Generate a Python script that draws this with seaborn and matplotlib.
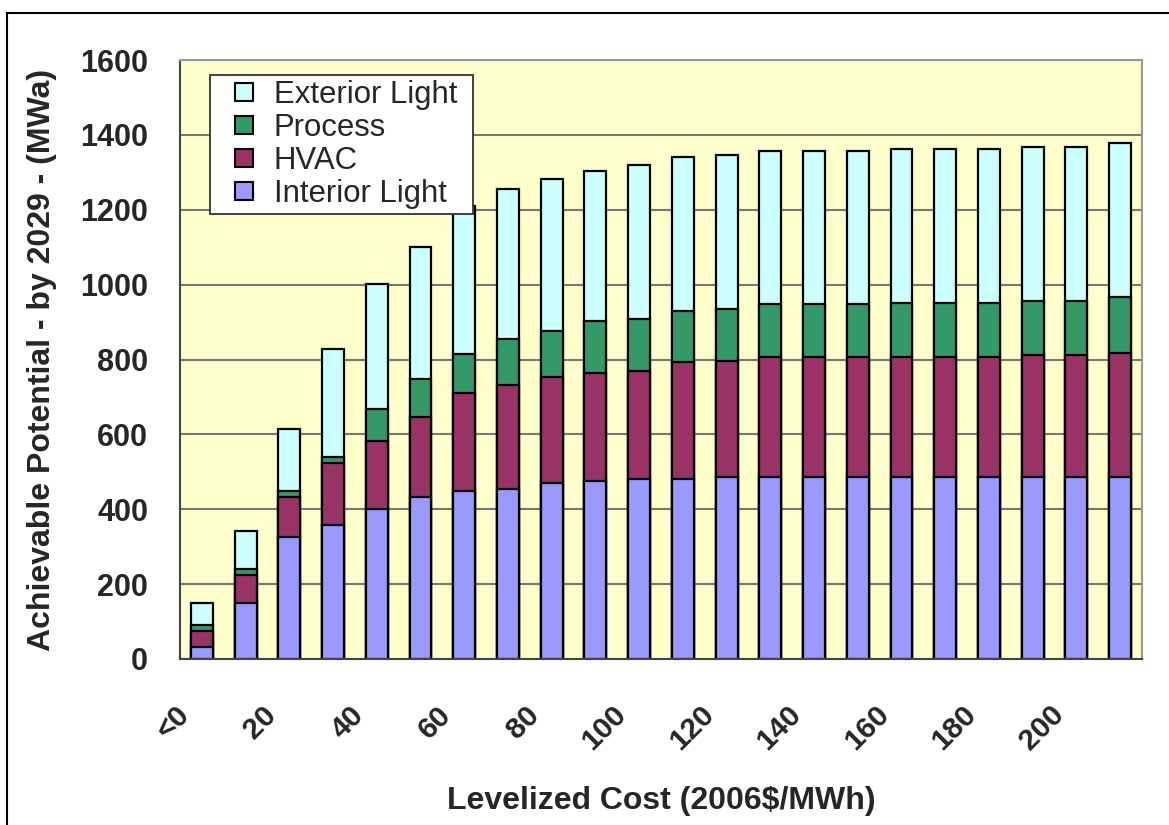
import matplotlib
matplotlib.use("Agg")
import matplotlib.pyplot as plt
import matplotlib.transforms as mtransforms
from matplotlib.patches import Patch, Rectangle
from matplotlib.legend_handler import HandlerPatch
import numpy as np
import seaborn as sns

sns.set_style("white")
plt.rcParams["font.family"] = ["Liberation Sans", "DejaVu Sans"]

# Levelized cost bins (2006$/MWh) and the labels shown on the axis
cost_bins = ["<0", "10", "20", "30", "40", "50", "60", "70", "80", "90", "100",
             "110", "120", "130", "140", "150", "160", "170", "180", "190", "200", "210"]
tick_labels = ["<0", "20", "40", "60", "80", "100", "120", "140", "160", "180", "200"]

# Achievable potential by end use (MWa)
interior_light = [31, 150, 327, 357, 401, 433, 449, 453, 471, 476, 481,
                  481, 486, 486, 486, 486, 486, 486, 486, 486, 486, 486]
hvac = [45, 75, 105, 167, 181, 213, 262, 279, 282, 288, 289,
        311, 311, 321, 321, 321, 321, 321, 321, 326, 326, 332]
process = [15, 16, 17, 16, 85, 102, 103, 123, 123, 139, 138,
           137, 138, 140, 140, 140, 145, 145, 145, 145, 145, 150]
exterior_light = [59, 102, 165, 288, 336, 353, 396, 400, 406, 401, 412,
                  413, 412, 411, 411, 411, 411, 411, 411, 411, 411, 411]

series_names = ["Interior Light", "HVAC", "Process", "Exterior Light"]
series_colors = ["#9999FF", "#993366", "#339966", "#CCFFFF"]
series_values = [interior_light, hvac, process, exterior_light]

W, H = 1169, 825
fig = plt.figure(figsize=(W / 100, H / 100), dpi=100)
ax = fig.add_axes([180 / W, 1 - 659 / H, 962 / W, 599 / H])
ax.set_facecolor("#FFFFCC")

# Stack by drawing cumulative totals, tallest first
cumulative = np.cumsum(np.array(series_values, dtype=float), axis=0)
for name, color, cum in reversed(list(zip(series_names, series_colors, cumulative))):
    sns.barplot(x=cost_bins, y=cum, order=cost_bins, color=color, saturation=1,
                width=0.5, edgecolor="black", linewidth=1.6, ax=ax, zorder=2)

ax.set_xlim(-0.5, len(cost_bins) - 0.5)
ax.set_ylim(0, 1600)
ax.set_yticks(range(0, 1601, 200))
ax.set_yticklabels([str(v) for v in range(0, 1601, 200)], fontsize=22, fontweight="bold")
ax.yaxis.grid(True, color="#777777", linewidth=1.5, zorder=0)
ax.xaxis.grid(False)
ax.set_axisbelow(True)

ax.set_xticks(range(0, len(cost_bins), 2))
ax.set_xticklabels(tick_labels, rotation=45, ha="right", va="center",
                   rotation_mode="anchor", fontsize=21.5, fontweight="bold")
ax.set_xticks(np.arange(-0.5, len(cost_bins), 1), minor=True)
ax.tick_params(axis="x", which="major", length=0, pad=37)
ax.tick_params(axis="x", which="minor", length=10, width=1.2, color="#444444", direction="out")
ax.tick_params(axis="y", which="major", length=10, width=1.2, color="#444444", direction="out", pad=13)
shift = mtransforms.ScaledTranslation(-17 / 100, 0, fig.dpi_scale_trans)
for lbl in ax.get_xticklabels():
    lbl.set_transform(lbl.get_transform() + shift)

for side in ["top", "right"]:
    ax.spines[side].set_color("#999999")
    ax.spines[side].set_linewidth(1.5)
for side in ["left", "bottom"]:
    ax.spines[side].set_color("#444444")
    ax.spines[side].set_linewidth(1.5)

ax.set_xlabel("Levelized Cost (2006$/MWh)", fontsize=23, fontweight="bold")
ax.set_ylabel("Achievable Potential - by 2029 - (MWa)", fontsize=23, fontweight="bold")
ax.xaxis.set_label_coords(0.5, -0.212)
ax.yaxis.set_label_coords(-0.128, 0.5)


def square_key(legend, orig_handle, xdescent, ydescent, width, height, fontsize):
    # small square key sitting at the right end of the handle box
    s = 0.58 * fontsize
    return Rectangle((-xdescent + width - s, -ydescent + (height - s) / 2), s, s)


handles = [Patch(facecolor=c, edgecolor="black", linewidth=1.5, label=n)
           for n, c in zip(series_names, series_colors)][::-1]
leg = ax.legend(handles=handles, loc="upper left", mode="expand",
                bbox_to_anchor=(0.031, 0.746, 0.2734, 0.229),
                borderaxespad=0, fontsize=22.4, frameon=True, fancybox=False,
                handlelength=1.23, handleheight=0.7, handletextpad=0.68,
                labelspacing=0.1, borderpad=0.15,
                handler_map={Patch: HandlerPatch(patch_func=square_key)})
leg.get_frame().set_edgecolor("#333333")
leg.get_frame().set_linewidth(1.3)
leg.get_frame().set_facecolor("white")
leg.get_frame().set_alpha(1)
leg.set_zorder(5)

# Outer chart frame
fig.add_artist(Rectangle((7 / W, -0.1), 1.2, (1 - 13 / H) + 0.1, transform=fig.transFigure,
                         fill=False, edgecolor="black", linewidth=1.5))

fig.savefig("out.png", dpi=100, facecolor="white")
